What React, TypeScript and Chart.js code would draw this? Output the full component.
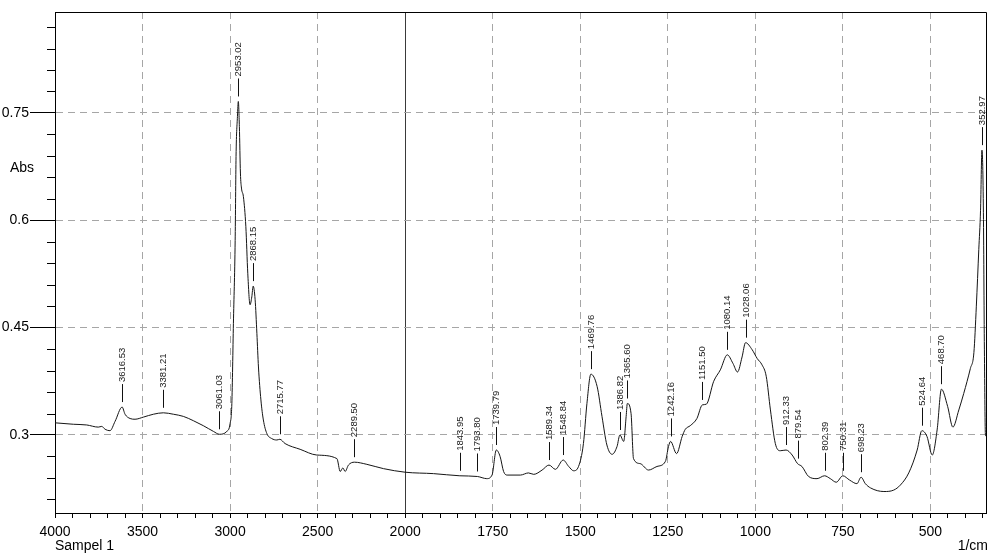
import React, { useEffect, useRef } from 'react';
import { Chart, registerables } from 'chart.js';

Chart.register(...registerables);

// Spectrum (wavenumber in 1/cm, absorbance)
const wavenumbers = [
  4000, 3895, 3819, 3753, 3733, 3714, 3686, 3657, 3616.53, 3600, 3571, 3543, 3495, 3438, 3381.21,
  3324, 3267, 3210, 3153, 3095, 3061.03, 3019, 3000, 2990, 2981, 2971, 2966, 2958, 2953.02, 2947,
  2941, 2935, 2924, 2910, 2899, 2886, 2876, 2868.15, 2857, 2847, 2838, 2824, 2810, 2790, 2762,
  2733, 2715.77, 2686, 2600, 2505, 2390, 2371, 2356, 2343, 2324, 2289.5, 2219, 2124, 2000, 1919,
  1843.95, 1793.8, 1767, 1752, 1739.79, 1729, 1719, 1709, 1671, 1648, 1633, 1609, 1589.34, 1571,
  1548.84, 1533, 1519, 1505, 1491, 1481, 1469.76, 1452, 1438, 1424, 1409, 1395, 1386.82, 1376,
  1369, 1365.6, 1355, 1348, 1329, 1305, 1281, 1257, 1248, 1242.16, 1225, 1209, 1200, 1186, 1167,
  1151.5, 1140, 1119, 1100, 1080.14, 1064, 1051, 1038, 1028.06, 1009, 995, 981, 969, 957, 943,
  929, 912.33, 895, 879.54, 867, 848, 824, 802.39, 786, 769, 750.31, 731, 710, 698.23, 686, 671,
  633, 605, 586, 562, 538, 524.64, 510, 495, 481, 468.7, 451, 436, 419, 405, 386, 376, 369, 362,
  357, 352.97, 349, 346, 343, 340,
];
const absorbance = [
  0.317, 0.315, 0.314, 0.311, 0.312, 0.308, 0.306, 0.319, 0.339, 0.329, 0.323, 0.322, 0.325, 0.329, 0.331,
  0.329, 0.326, 0.320, 0.313, 0.305, 0.301, 0.305, 0.316, 0.344, 0.456, 0.572, 0.689, 0.745, 0.766, 0.731,
  0.666, 0.645, 0.633, 0.591, 0.526, 0.482, 0.493, 0.508, 0.489, 0.442, 0.395, 0.349, 0.321, 0.302, 0.295,
  0.293, 0.294, 0.288, 0.280, 0.272, 0.267, 0.249, 0.254, 0.249, 0.258, 0.262, 0.259, 0.253, 0.248, 0.246,
  0.243, 0.242, 0.239, 0.244, 0.279, 0.270, 0.249, 0.244, 0.244, 0.247, 0.245, 0.251, 0.258, 0.252,
  0.265, 0.256, 0.250, 0.256, 0.288, 0.344, 0.385, 0.368, 0.326, 0.286, 0.273, 0.284, 0.300, 0.291,
  0.326, 0.344, 0.330, 0.267, 0.260, 0.251, 0.256, 0.263, 0.284, 0.291, 0.274, 0.298, 0.308, 0.313, 0.323,
  0.342, 0.343, 0.375, 0.391, 0.412, 0.400, 0.388, 0.409, 0.429, 0.419, 0.407, 0.398, 0.382, 0.335, 0.288,
  0.278, 0.279, 0.272, 0.260, 0.256, 0.242, 0.239, 0.243, 0.239, 0.234, 0.243, 0.237, 0.232, 0.241, 0.232, 0.226,
  0.221, 0.223, 0.230, 0.247, 0.279, 0.306, 0.298, 0.272, 0.307, 0.364, 0.340, 0.311, 0.335, 0.358, 0.393, 0.415, 0.48, 0.559,
  0.614, 0.698, 0.62, 0.42, 0.30, 0.298,
];

const peakLabels = [
  '3616.53', '3381.21', '3061.03', '2953.02', '2868.15', '2715.77', '2289.50', '1843.95', '1793.80',
  '1739.79', '1589.34', '1548.84', '1469.76', '1386.82', '1365.60', '1242.16', '1151.50', '1080.14',
  '1028.06', '912.33', '879.54', '802.39', '750.31', '698.23', '524.64', '468.70', '352.97',
];

const xTickValues = [4000, 3500, 3000, 2500, 2000, 1750, 1500, 1250, 1000, 750, 500];
const yTickValues = [0.3, 0.45, 0.6, 0.75];
const xRange = [4000, 340];
const yRange = [0.191, 0.891];

// Piecewise wavenumber axis: 4000-2000 compressed by half relative to 2000-340
const toU = (w: number) => (w >= 2000 ? (4000 - w) / 2 : 1000 + (2000 - w));
const toW = (u: number) => (u <= 1000 ? 4000 - 2 * u : 3000 - u);

const FONT = "'Liberation Sans', Arial, Helvetica, sans-serif";
const near = (a: number, b: number) => Math.abs(a - b) < 1e-6;
const isMajorY = (v: number) => yTickValues.some((t) => near(t, v));
const isMajorX = (u: number) => near(u % 250, 0) && xTickValues.some((t) => near(toU(t), u));

const overlay = {
  id: 'overlay',
  afterDraw(chart: any) {
    const { ctx, chartArea: a, scales } = chart;
    const xs = scales.x;
    const ys = scales.y;
    ctx.save();
    // frame top & right
    ctx.strokeStyle = '#000';
    ctx.lineWidth = 1;
    ctx.setLineDash([]);
    ctx.beginPath();
    ctx.moveTo(Math.floor(a.left) + 0.5, Math.floor(a.top) + 0.5);
    ctx.lineTo(Math.floor(a.right) + 0.5, Math.floor(a.top) + 0.5);
    ctx.lineTo(Math.floor(a.right) + 0.5, Math.floor(a.bottom) + 0.5);
    ctx.stroke();

    // minor y ticks
    ctx.beginPath();
    ys.ticks.forEach((t: any) => {
      if (isMajorY(t.value)) return;
      const y = Math.round(ys.getPixelForValue(t.value)) + 0.5;
      ctx.moveTo(a.left - 8, y);
      ctx.lineTo(a.left, y);
    });
    ctx.stroke();

    // peak labels
    const ds = chart.data.datasets[0].data as { x: number; y: number }[];
    ctx.font = `9.5px ${FONT}`;
    ctx.fillStyle = '#1a1a1a';
    ctx.strokeStyle = '#111';
    peakLabels.forEach((lab) => {
      const w = parseFloat(lab);
      const u = toU(w);
      let best = ds[0];
      ds.forEach((p) => {
        if (Math.abs(p.x - u) < Math.abs(best.x - u)) best = p;
      });
      const x = Math.round(xs.getPixelForValue(u)) + 0.5;
      const yPeak = ys.getPixelForValue(best.y);
      const y1 = yPeak - 5;
      const y0 = y1 - 18;
      ctx.beginPath();
      ctx.moveTo(x, y1);
      ctx.lineTo(x, y0);
      ctx.stroke();
      ctx.save();
      ctx.translate(x, y0 - 2);
      ctx.rotate(-Math.PI / 2);
      ctx.textAlign = 'left';
      ctx.textBaseline = 'middle';
      ctx.fillText(lab, 0, 0);
      ctx.restore();
    });

    // axis captions
    ctx.fillStyle = '#000';
    ctx.font = `14px ${FONT}`;
    ctx.textBaseline = 'middle';
    ctx.textAlign = 'center';
    ctx.fillText('Abs', 22, ys.getPixelForValue(0.673));
    ctx.textBaseline = 'alphabetic';
    ctx.textAlign = 'left';
    ctx.fillText('Sampel 1', a.left, 550);
    ctx.textAlign = 'right';
    ctx.fillText('1/cm', 988, 550);
    ctx.restore();
  },
};

export default function App() {
  const ref = useRef<HTMLCanvasElement | null>(null);

  useEffect(() => {
    if (!ref.current) return;
    const points = wavenumbers.map((w, i) => ({ x: toU(w), y: absorbance[i] }));
    const chart = new Chart(ref.current, {
      type: 'line',
      data: {
        datasets: [
          {
            data: points,
            borderColor: '#151515',
            borderWidth: 1,
            pointRadius: 0,
            fill: false,
            cubicInterpolationMode: 'monotone',
          },
        ],
      },
      options: {
        responsive: false,
        animation: false,
        devicePixelRatio: 1,
        events: [],
        layout: { padding: { top: 12, right: 2, left: 0, bottom: 0 } },
        plugins: { legend: { display: false }, tooltip: { enabled: false } },
        scales: {
          x: {
            type: 'linear',
            min: toU(xRange[0]),
            max: toU(xRange[1]),
            afterBuildTicks: (s: any) => {
              s.ticks = s.ticks.filter((t: any) => near(t.value % 50, 0) || near(t.value % 50, 50));
            },
            afterFit: (s: any) => {
              s.height = 41;
            },
            ticks: {
              stepSize: 50,
              autoSkip: false,
              maxRotation: 0,
              minRotation: 0,
              includeBounds: false,
              padding: 6,
              color: '#000',
              font: { family: FONT, size: 14 },
              callback: (v: any) => (isMajorX(Number(v)) ? String(toW(Number(v))) : ''),
            },
            grid: {
              color: (c: any) => {
                const v = c.tick ? c.tick.value : -1;
                if (near(v, 1000)) return '#3a3a3a';
                if (v > 0 && isMajorX(v)) return '#a6a6a6';
                return 'rgba(0,0,0,0)';
              },
              lineWidth: 1,
              tickLength: 5,
              tickColor: '#000',
              drawTicks: true,
            },
            border: {
              display: true,
              color: '#000',
              width: 1,
              dash: (c: any) => (c.tick && near(c.tick.value, 1000) ? [] : [7, 5]),
            },
          },
          y: {
            type: 'linear',
            min: yRange[0],
            max: yRange[1],
            afterBuildTicks: (s: any) => {
              s.ticks = s.ticks.filter((t: any) => {
                const r = t.value / 0.03;
                return Math.abs(r - Math.round(r)) < 1e-6;
              });
            },
            afterFit: (s: any) => {
              s.width = 55;
            },
            ticks: {
              stepSize: 0.03,
              autoSkip: false,
              includeBounds: false,
              padding: 1,
              color: '#000',
              font: { family: FONT, size: 14 },
              callback: (v: any) => {
                const t = yTickValues.find((y) => near(y, Number(v)));
                return t === undefined ? '' : String(t);
              },
            },
            grid: {
              color: (c: any) => (c.tick && isMajorY(c.tick.value) ? '#a6a6a6' : 'rgba(0,0,0,0)'),
              lineWidth: 1,
              tickLength: 25,
              tickColor: (c: any) => (c.tick && isMajorY(c.tick.value) ? '#000' : 'rgba(0,0,0,0)'),
            },
            border: { display: true, color: '#000', width: 1, dash: [7, 5] },
          },
        },
      },
      plugins: [overlay],
    } as any);
    return () => chart.destroy();
  }, []);

  return (
    <div style={{ position: 'fixed', left: 0, top: 0, width: 989, height: 554, background: '#fff' }}>
      <canvas ref={ref} width={989} height={554} style={{ display: 'block' }} />
    </div>
  );
}
